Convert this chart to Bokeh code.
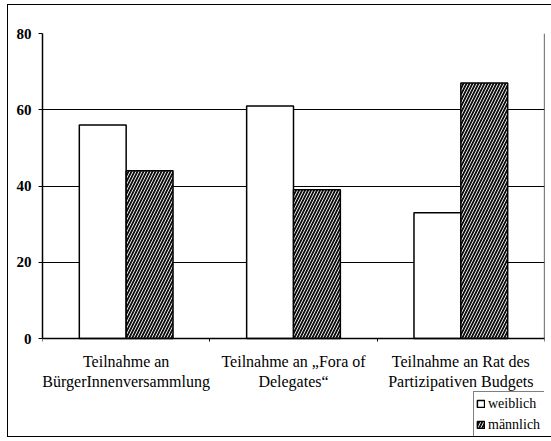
from bokeh.plotting import figure
from bokeh.models import (FixedTicker, Legend, LegendItem, ColumnDataSource, Range1d,
                          InlineStyleSheet, LinearAxis)
from bokeh.transform import dodge
from bokeh.embed import file_html
from bokeh.resources import INLINE

categories = ["Teilnahme an\nBürgerInnenversammlung",
              "Teilnahme an „Fora of\nDelegates“",
              "Teilnahme an Rat des\nPartizipativen Budgets"]
weiblich = [56, 61, 33]
maennlich = [44, 39, 67]
y_ticks = [0, 20, 40, 60, 80]
series_labels = ["weiblich", "männlich"]

xpos = [i + 0.5 for i in range(len(categories))]
src = ColumnDataSource(dict(x=xpos, w=weiblich, m=maennlich))

FONT = "Liberation Serif"

# layout geometry (pixels)
PLOT_H = 305          # height of the 0..80 value area
FRAME_H = 407         # frame extends below to hold labels + legend
y_top = y_ticks[-1]
y_bottom = y_top - FRAME_H * y_top / PLOT_H

frame_css = InlineStyleSheet(css="""
:host { position: relative; }
:host::after {
  content: ""; position: absolute; left: 7px; top: 4px; right: -20px; bottom: 3px;
  border: 1.5px solid black; pointer-events: none; z-index: 50;
}
""")

p = figure(frame_width=502, frame_height=FRAME_H, output_backend="svg", toolbar_location=None,
           x_range=Range1d(0, len(categories)), y_range=Range1d(y_bottom, y_top),
           min_border_left=42, min_border_right=6, min_border_top=33, min_border_bottom=0,
           stylesheets=[frame_css])
p.background_fill_color = "white"
p.border_fill_color = "white"
p.outline_line_color = None

rw = p.vbar(x=dodge("x", -0.14, range=p.x_range), top="w", width=0.28, source=src,
            fill_color="white", line_color="black", line_width=1.5)
rm = p.vbar(x=dodge("x", 0.14, range=p.x_range), top="m", width=0.28, source=src,
            fill_color="#111111", line_color="black", line_width=1.5,
            hatch_pattern="/", hatch_color="white", hatch_scale=6, hatch_weight=0.9)

p.xgrid.visible = False
p.ygrid.grid_line_color = "black"
p.ygrid.grid_line_width = 1
p.ygrid.ticker = FixedTicker(ticks=y_ticks)

p.yaxis.ticker = FixedTicker(ticks=y_ticks)
p.yaxis.bounds = (0, y_top)
p.yaxis.axis_line_color = "black"
p.yaxis.axis_line_width = 1.5
p.yaxis.major_tick_out = 4
p.yaxis.major_tick_in = 0
p.yaxis.minor_tick_out = 0
p.yaxis.major_label_standoff = 7
p.yaxis.major_label_text_font = FONT
p.yaxis.major_label_text_font_size = "15px"
p.yaxis.major_label_text_font_style = "bold"
p.yaxis.major_label_text_color = "black"

p.xaxis.fixed_location = 0
p.xaxis.ticker = FixedTicker(ticks=xpos, minor_ticks=list(range(len(categories) + 1)))
p.xaxis.major_label_overrides = {x: c for x, c in zip(xpos, categories)}
p.xaxis.axis_line_color = "black"
p.xaxis.axis_line_width = 1.5
p.xaxis.major_tick_out = 0
p.xaxis.major_tick_in = 0
p.xaxis.minor_tick_out = 3
p.xaxis.minor_tick_in = 0
p.xaxis.minor_tick_line_color = "black"
p.xaxis.major_label_standoff = 11
p.xaxis.major_label_text_font = FONT
p.xaxis.major_label_text_font_size = "16px"
p.xaxis.major_label_text_color = "black"

# right edge of the value area
redge = LinearAxis(fixed_location=len(categories), bounds=(0, y_top),
                   ticker=FixedTicker(ticks=[]), major_label_text_font_size="0px",
                   major_tick_out=0, minor_tick_out=0, major_tick_in=0, minor_tick_in=0,
                   axis_line_color="black", axis_line_width=1.2)
p.add_layout(redge, "right")

legend = Legend(items=[LegendItem(label=series_labels[0], renderers=[rw]),
                       LegendItem(label=series_labels[1], renderers=[rm])],
                location=(431, 3), orientation="vertical")
legend.label_text_font = FONT
legend.label_text_font_size = "14px"
legend.label_text_color = "black"
legend.glyph_width = 9
legend.glyph_height = 9
legend.label_height = 19
legend.label_width = 70
legend.label_standoff = 3
legend.padding = 2
legend.spacing = 2
legend.margin = 0
legend.border_line_color = "black"
legend.border_line_width = 1
legend.background_fill_alpha = 1
p.add_layout(legend, "center")

open("out.html", "w").write(file_html(p, INLINE))
